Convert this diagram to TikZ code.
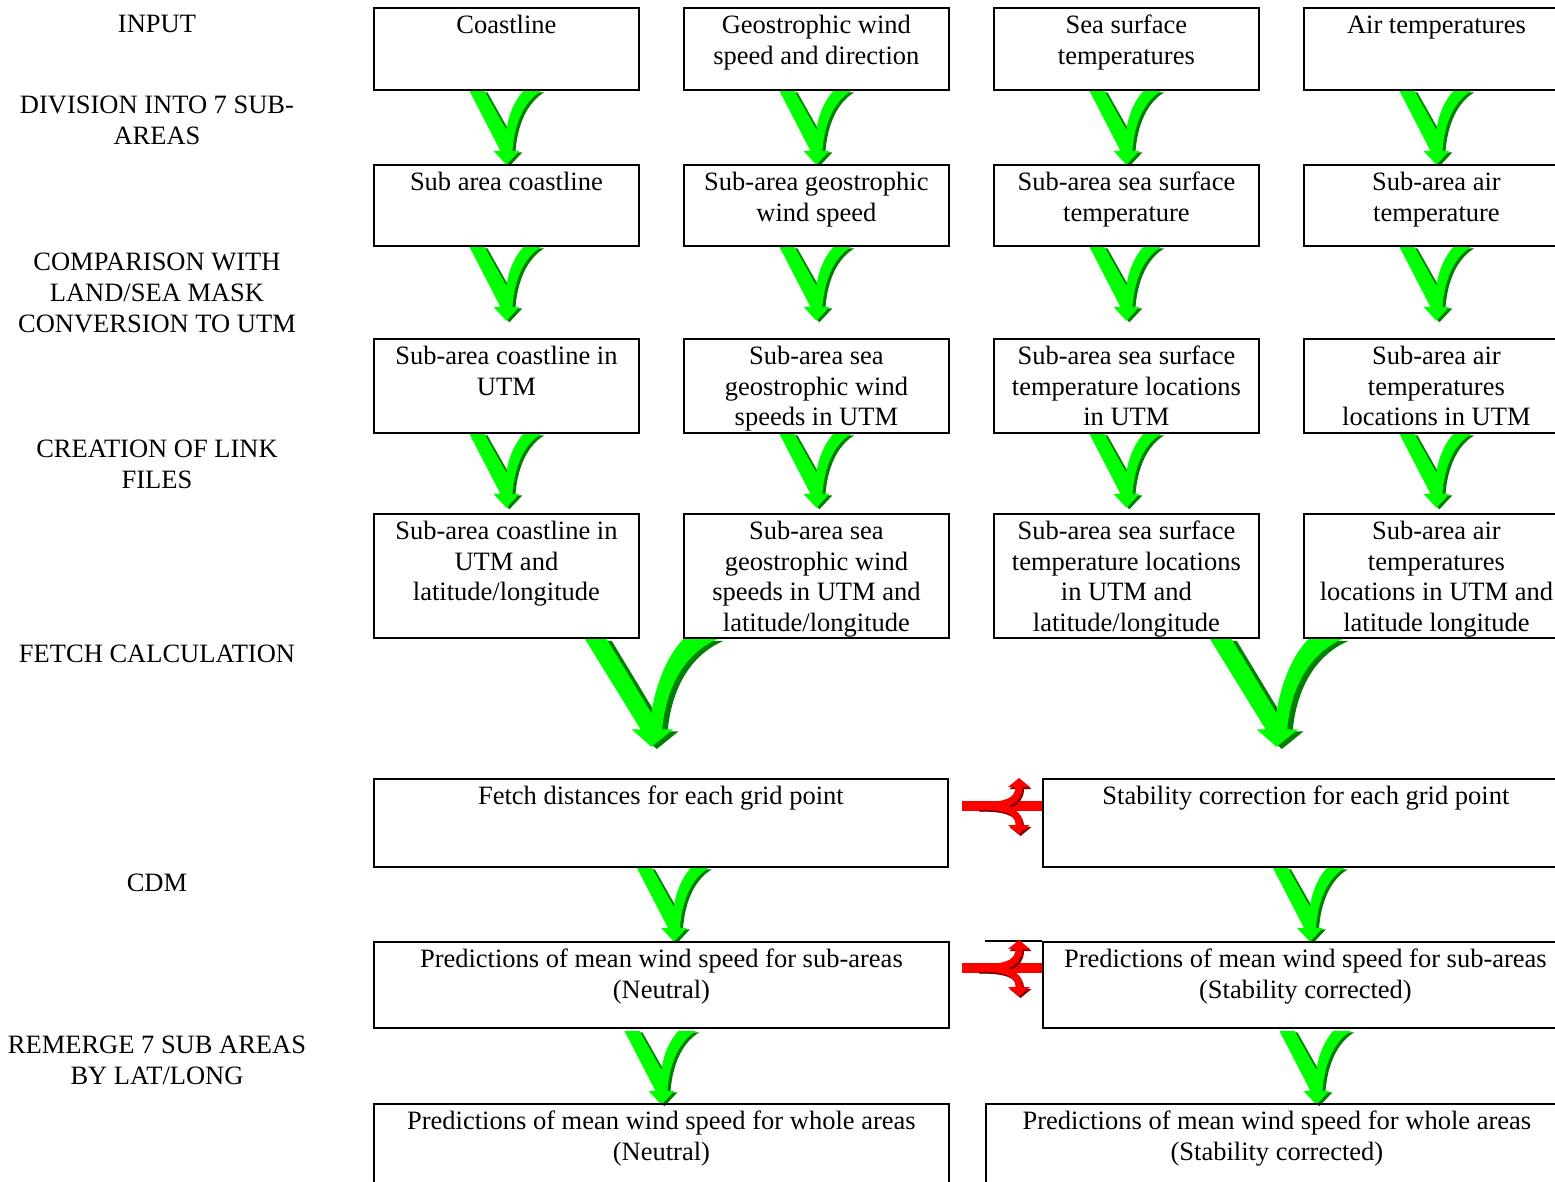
\documentclass[tikz,border=0pt]{standalone}
\usepackage{fontspec}
\setmainfont{Liberation Serif}
\usetikzlibrary{calc}
\pgfdeclarelayer{bg}
\pgfsetlayers{bg,main}
\definecolor{gbright}{RGB}{0,255,0}
\definecolor{gdark}{RGB}{0,128,0}
\definecolor{rbright}{RGB}{255,0,0}
\definecolor{rdark}{RGB}{128,0,0}
\newcommand\txtfont{\fontsize{26.5}{30.7}\selectfont}
\tikzset{
  boxst/.style={draw, line width=1.8pt, inner sep=0pt, anchor=north west, font=\txtfont},
  lbl/.style={inner sep=0pt, anchor=north, font=\txtfont},
  pics/varrow/.style={code={
    \fill[gdark, shift={(3,1.5)}] (-37,-74) -- (-6,-14) -- (-13,-14) -- (0,0) -- (13,-14) -- (6,-14)
      .. controls (8,-42) and (18,-64) .. (35,-74) -- (17,-74)
      .. controls (8,-64) and (2,-50) .. (0,-35) -- (-22,-74) -- cycle;
    \fill[gbright] (-37,-74) -- (-6,-14) -- (-13,-14) -- (0,0) -- (13,-14) -- (6,-14)
      .. controls (8,-42) and (18,-64) .. (35,-74) -- (17,-74)
      .. controls (8,-64) and (2,-50) .. (0,-35) -- (-22,-74) -- cycle;
  }},
  pics/bigvarrow/.style={code={
    \fill[gdark, shift={(3,1.5)}] (-37,-74) -- (-6,-12) -- (-11,-12) -- (0,0) -- (12,-12) -- (6,-12)
      .. controls (8,-40) and (18,-64) .. (37,-74) -- (18,-74)
      .. controls (8,-62) and (2,-40) .. (0,-23) -- (-25,-74) -- cycle;
    \fill[gbright] (-37,-74) -- (-6,-12) -- (-11,-12) -- (0,0) -- (12,-12) -- (6,-12)
      .. controls (8,-40) and (18,-64) .. (37,-74) -- (18,-74)
      .. controls (8,-62) and (2,-40) .. (0,-23) -- (-25,-74) -- cycle;
  }},
  pics/rsplit/.style={code={
    \fill[rbright] (-80,-5) rectangle (0,5);
    \draw[rdark, line width=7pt, shift={(1.5,2)}] (-64,0) .. controls (-38,0) and (-23,-4) .. (-23,-19);
    \draw[rdark, line width=7pt, shift={(1.5,2)}] (-64,0) .. controls (-38,0) and (-23,4) .. (-23,19);
    \fill[rdark, shift={(1.5,2)}] (-34,-19) -- (-12,-19) -- (-23,-28) -- cycle;
    \fill[rdark, shift={(1.5,2)}] (-34,19) -- (-12,19) -- (-23,28) -- cycle;
    \draw[rbright, line width=7pt] (-64,0) .. controls (-38,0) and (-23,-4) .. (-23,-19);
    \draw[rbright, line width=7pt] (-64,0) .. controls (-38,0) and (-23,4) .. (-23,19);
    \fill[rbright] (-34,-19) -- (-12,-19) -- (-23,-28) -- cycle;
    \fill[rbright] (-34,19) -- (-12,19) -- (-23,28) -- cycle;
  }}
}
\newcommand\bx[6]{\node[boxst] (#1) at (#2,#3) {\parbox[c][#5pt][t]{#4pt}{\centering\rule{0pt}{25.5pt}#6}};}
\newcommand\lb[3]{\node[lbl] (#1) at (157,#2) {\parbox[t]{330pt}{\centering\rule{0pt}{25.5pt}#3}};}
\begin{document}
\begin{tikzpicture}[x=1pt,y=-1pt]
\useasboundingbox (0,0) rectangle (1555,1181);
\clip (0,0) rectangle (1555,1181);
% left labels
\lb{l1}{7}{INPUT}
\lb{l2}{88}{DIVISION INTO 7 SUB-\\AREAS}
\lb{l3}{245}{COMPARISON WITH\\LAND/SEA MASK\\CONVERSION TO UTM}
\lb{l4}{432}{CREATION OF LINK\\FILES}
\lb{l5}{637}{FETCH CALCULATION}
\lb{l6}{866}{CDM}
\lb{l7}{1028}{REMERGE 7 SUB AREAS\\BY LAT/LONG}
% row 1
\bx{a1}{373}{7}{265}{82}{Coastline}
\bx{b1}{683}{7}{265}{82}{Geostrophic wind\\speed and direction}
\bx{c1}{993}{7}{265}{82}{Sea surface\\temperatures}
\bx{d1}{1303}{7}{265}{82}{Air temperatures}
% row 2
\bx{a2}{373}{164}{265}{81}{Sub area coastline}
\bx{b2}{683}{164}{265}{81}{Sub-area geostrophic\\wind speed}
\bx{c2}{993}{164}{265}{81}{Sub-area sea surface\\temperature}
\bx{d2}{1303}{164}{265}{81}{Sub-area air\\temperature}
% row 3
\bx{a3}{373}{338}{265}{94}{Sub-area coastline in\\UTM}
\bx{b3}{683}{338}{265}{94}{Sub-area sea\\geostrophic wind\\speeds in UTM}
\bx{c3}{993}{338}{265}{94}{Sub-area sea surface\\temperature locations\\in UTM}
\bx{d3}{1303}{338}{265}{94}{Sub-area air\\temperatures\\locations in UTM}
% row 4
\bx{a4}{373}{513}{265}{124}{Sub-area coastline in\\UTM and\\latitude/longitude}
\bx{b4}{683}{513}{265}{124}{Sub-area sea\\geostrophic wind\\speeds in UTM and\\latitude/longitude}
\bx{c4}{993}{513}{265}{124}{Sub-area sea surface\\temperature locations\\in UTM and\\latitude/longitude}
\bx{d4}{1303}{513}{265}{124}{Sub-area air\\temperatures\\locations in UTM and\\latitude longitude}
% row 5
\bx{fetch}{373}{778}{574}{88}{Fetch distances for each grid point}
\bx{stab}{1042}{778}{526}{88}{Stability correction for each grid point}
% row 6
\bx{p6l}{373}{941}{575}{86}{Predictions of mean wind speed for sub-areas\\(Neutral)}
\bx{p6r}{1042}{941}{525}{86}{Predictions of mean wind speed for sub-areas\\(Stability corrected)}
\coordinate (p6ext) at (985,941);
\draw[line width=1.8pt] (p6ext) -- (p6r.north west);
% row 7
\bx{p7l}{373}{1103}{575}{100}{Predictions of mean wind speed for whole areas\\(Neutral)}
\bx{p7r}{985}{1103}{582}{100}{Predictions of mean wind speed for whole areas\\(Stability corrected)}
\begin{pgfonlayer}{bg}
\foreach \u in {a,b,c,d}{
  \pic at ($(\u1.south)+(0,74)$) {varrow};
  \pic at ($(\u2.south)+(0,74)$) {varrow};
  \pic at ($(\u3.south)+(0,74)$) {varrow};
}
\pic[xscale=1.8,yscale=1.46] at ($(a4.south east)!0.5!(b4.south west)+(-10,108)$) {bigvarrow};
\pic[xscale=1.8,yscale=1.46] at ($(c4.south east)!0.5!(d4.south west)+(-5,108)$) {bigvarrow};
\pic at ($(fetch.south)+(13,74)$) {varrow};
\pic at ($(stab.south)+(4,74)$) {varrow};
\pic at ($(p6l.south)+(0,76)$) {varrow};
\pic at ($(p6r.south)+(11,76)$) {varrow};
\end{pgfonlayer}
\pic at ($(stab.north west)+(0,28)$) {rsplit};
\pic at ($(p6r.north west)+(0,27)$) {rsplit};
\end{tikzpicture}
\end{document}
